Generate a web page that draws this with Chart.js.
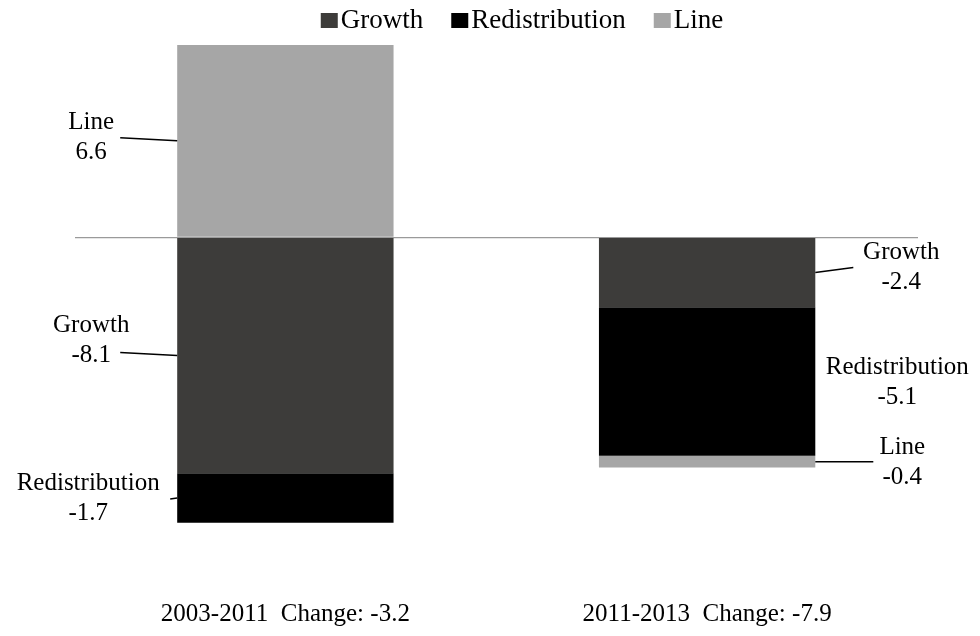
<!DOCTYPE html>
<html>
<head>
<meta charset="utf-8">
<script src="https://cdn.jsdelivr.net/npm/chart.js@4.4.0/dist/chart.umd.min.js"></script>
<style>
  html, body { margin: 0; padding: 0; background: #fff; }
  #wrap { width: 980px; height: 636px; }
</style>
</head>
<body>
<div id="wrap"><canvas id="chart1"></canvas></div>
<script>
// DATA
const periods = ["2003-2011  Change: -3.2", "2011-2013  Change: -7.9"];
const growth = [-8.1, -2.4];
const redistribution = [-1.7, -5.1];
const line = [6.6, -0.4];
const seriesNames = ["Growth", "Redistribution", "Line"];

// label placement next to each segment (text centre offset from bar edge, leader start)
const labelLayout = [
  [ { side: -1, dx: 86, dy: -30, lx: 57, ly: -3 }, { side: 1, dx: 86, dy: -20, lx: 38, ly: -5 } ],
  [ { side: -1, dx: 89, dy: -15, lx: 7, ly: 1 },   { side: 1, dx: 82, dy: -14, lx: 0, ly: 0 } ],
  [ { side: -1, dx: 86, dy: -18, lx: 57, ly: -3 }, { side: 1, dx: 87, dy: -14, lx: 58, ly: 0 } ],
];

const serif = "'Liberation Serif', 'Times New Roman', serif";
const colors = ["#3d3c3a", "#000000", "#a6a6a6"];

//PLUGIN THAT DRAWS THE LEGEND AND THE SEGMENT LABELS WITH LEADER LINES
const labelPlugin = {
  id: "segLabels",
  afterDatasetsDraw(chart) {
    const ctx = chart.ctx;
    ctx.save();
    ctx.font = "25px " + serif;
    ctx.fillStyle = "#000";
    ctx.strokeStyle = "#000";
    ctx.lineWidth = 1.5;
    ctx.textAlign = "center";
    ctx.textBaseline = "middle";
    chart.data.datasets.forEach((ds, di) => {
      const meta = chart.getDatasetMeta(di);
      meta.data.forEach((bar, i) => {
        const lay = labelLayout[di][i];
        const p = bar.getProps(["x", "y", "base", "width"], true);
        const mid = (p.y + p.base) / 2;
        const edge = p.x + lay.side * p.width / 2;
        const tx = edge + lay.side * lay.dx;
        ctx.fillText(ds.label, tx, mid + lay.dy);
        ctx.fillText(String(ds.data[i]), tx, mid + lay.dy + 30);
        if (lay.lx > 0) {
          ctx.beginPath();
          ctx.moveTo(edge + lay.side * lay.lx, mid + lay.ly);
          ctx.lineTo(edge, mid);
          ctx.stroke();
        }
      });
    });

    // legend
    const boxW = 17, boxH = 15, gap = 3, itemGap = 28;
    ctx.textAlign = "left";
    ctx.font = "27px " + serif;
    const widths = chart.data.datasets.map(ds => boxW + gap + ctx.measureText(ds.label).width);
    const total = widths.reduce((a, b) => a + b, 0) + itemGap * (widths.length - 1);
    let x = 522 - total / 2;
    chart.data.datasets.forEach((ds, di) => {
      ctx.fillStyle = ds.backgroundColor;
      ctx.fillRect(x, 13, boxW, boxH);
      ctx.fillStyle = "#000";
      ctx.fillText(ds.label, x + boxW + gap, 21);
      x += widths[di] + itemGap;
    });
    ctx.restore();
  },
};

const ctx = document.getElementById("chart1").getContext("2d");
const myChart = new Chart(ctx, {
  type: "bar",
  data: {
    labels: periods,
    datasets: [
      { label: seriesNames[0], data: growth, backgroundColor: colors[0] },
      { label: seriesNames[1], data: redistribution, backgroundColor: colors[1] },
      { label: seriesNames[2], data: line, backgroundColor: colors[2] },
    ],
  },
  options: {
    responsive: true,
    maintainAspectRatio: false,
    animation: false,
    layout: { padding: { left: 74.5, right: 62, top: 45, bottom: 0 } },
    datasets: { bar: { categoryPercentage: 1, barPercentage: 0.513, borderWidth: 0 } },
    plugins: { legend: { display: false }, tooltip: { enabled: false } },
    scales: {
      x: {
        stacked: true,
        grid: { display: false },
        border: { display: false },
        ticks: { color: "#000", font: { family: serif, size: 25 }, padding: 7, maxRotation: 0 },
      },
      y: {
        stacked: true,
        min: -11.9,
        max: 6.6,
        ticks: { display: false },
        border: { display: false },
        grid: {
          drawTicks: false,
          color: (c) => (c.tick && c.tick.value === 0 ? "#9a9a9a" : "rgba(0,0,0,0)"),
          lineWidth: 1.2,
        },
      },
    },
  },
  plugins: [labelPlugin],
});
</script>
</body>
</html>
